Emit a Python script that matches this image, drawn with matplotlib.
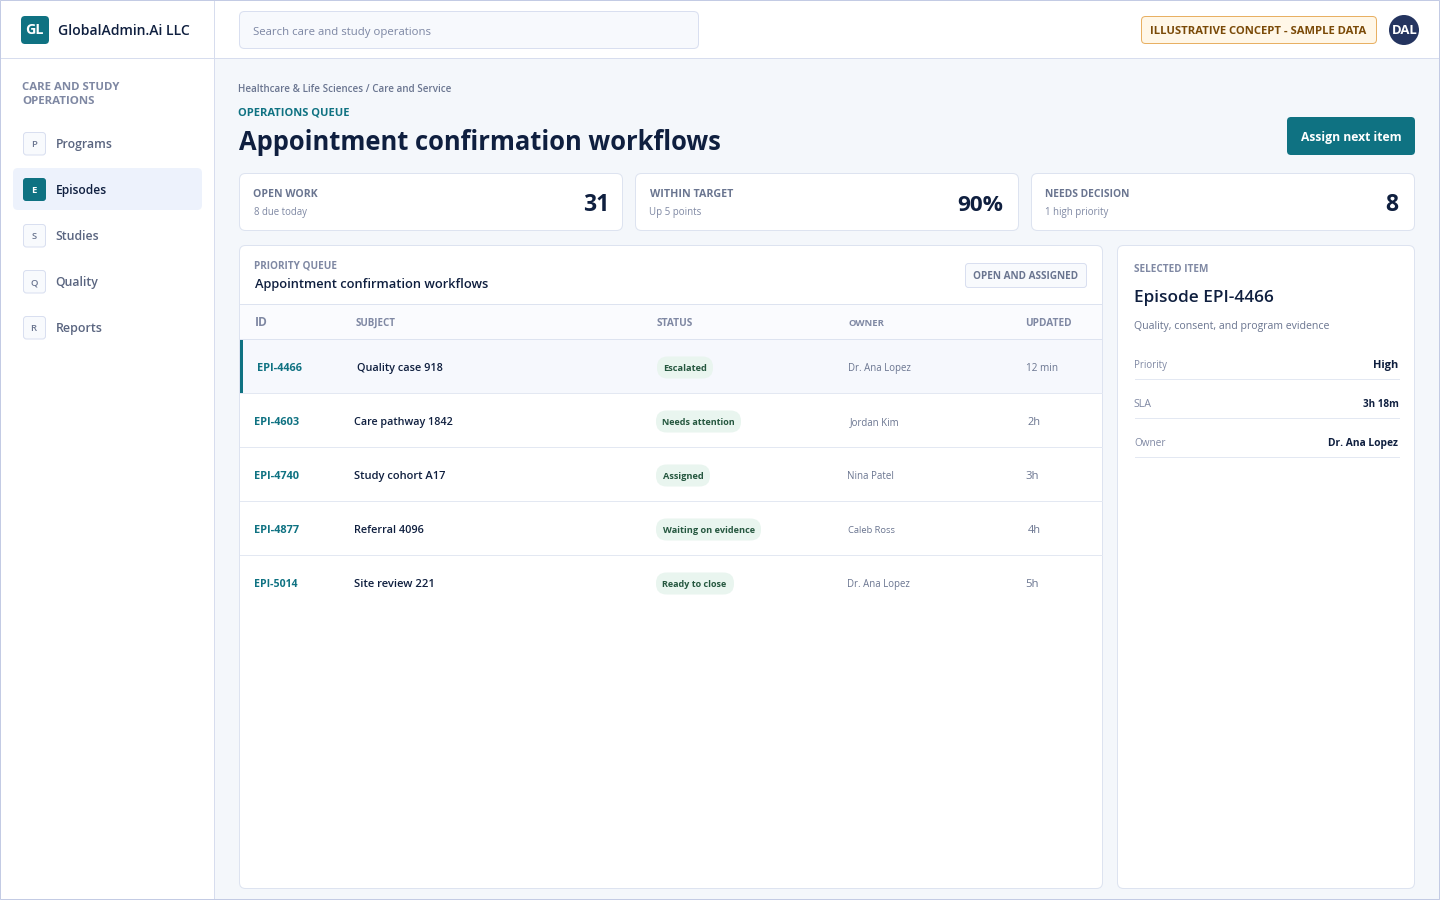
import matplotlib
matplotlib.use("Agg")
import numpy as np
import matplotlib.pyplot as plt
from matplotlib.figure import Figure
from matplotlib.backends.backend_agg import FigureCanvasAgg
from matplotlib.patches import FancyBboxPatch, Rectangle, Circle

plt.rcParams['font.family'] = ['Open Sans', 'DejaVu Sans']

nav_letters = ["P", "E", "S", "Q", "R"]
nav_labels = ["Programs", "Episodes", "Studies", "Quality", "Reports"]
kpi_titles = ["OPEN WORK", "WITHIN TARGET", "NEEDS DECISION"]
kpi_subs = ["8 due today", "Up 5 points", "1 high priority"]
kpi_values = ["31", "90%", "8"]
col_headers = ["ID", "SUBJECT", "STATUS", "OWNER", "UPDATED"]
row_ids = ["EPI-4466", "EPI-4603", "EPI-4740", "EPI-4877", "EPI-5014"]
row_subjects = ["Quality case 918", "Care pathway 1842", "Study cohort A17", "Referral 4096", "Site review 221"]
row_status = ["Escalated", "Needs attention", "Assigned", "Waiting on evidence", "Ready to close"]
row_owner = ["Dr. Ana Lopez", "Jordan Kim", "Nina Patel", "Caleb Ross", "Dr. Ana Lopez"]
row_updated = ["12 min", "2h", "3h", "4h", "5h"]
detail_keys = ["Priority", "SLA", "Owner"]
detail_vals = ["High", "3h 18m", "Dr. Ana Lopez"]

NAVY = "#0f1f3f"; SLATE = "#6a7590"; MUTED = "#7f88a3"; TEAL = "#0f7282"
BORDER = "#dde3f0"; PAGE = "#f4f7fb"; OUTER = "#c3cbe4"
LW = 0.72

fig = plt.figure(figsize=(14.4, 9), dpi=100, facecolor="white")
ax = fig.add_axes([0, 0, 1, 1])
ax.set_xlim(0, 1440); ax.set_ylim(900, 0); ax.axis("off")

def rect(x0, y0, x1, y1, fc, ec="none", lw=0, z=1):
    ax.add_patch(Rectangle((x0, y0), x1 - x0, y1 - y0, fc=fc, ec=ec, lw=lw, zorder=z))

def rrect(x0, y0, x1, y1, r, fc, ec="none", lw=LW, z=2):
    ax.add_patch(FancyBboxPatch((x0 + r, y0 + r), x1 - x0 - 2 * r, y1 - y0 - 2 * r,
                                boxstyle=f"round,pad={r},rounding_size={r}", fc=fc, ec=ec, lw=lw, zorder=z))

def hline(x0, x1, y, c):
    ax.plot([x0, x1], [y - 0.5, y - 0.5], color=c, lw=LW, zorder=4)

def ink(s, pt, w, ha):
    # pixel extent of the drawn text, relative to its anchor
    f = Figure(figsize=(20, 1), dpi=100, facecolor="white")
    c = FigureCanvasAgg(f)
    f.text(0.5, 0.5, s, fontsize=pt, fontweight=w, ha=ha, va="center", color="black")
    c.draw()
    a = np.asarray(c.buffer_rgba())[:, :, 0]
    cols = np.where((a < 170).any(axis=0))[0]
    return cols[0] - 1000, cols[-1] + 1 - 1000

def t(x, y, s, px, c=NAVY, w="normal", ha="left", width=None):
    pt = px * 0.72
    if width:
        for _ in range(2):
            l, r = ink(s, pt, w, ha)
            pt *= width / max(r - l, 1)
    l, r = ink(s, pt, w, ha)
    if ha == "left":
        x = x - l + 0.4
    elif ha == "right":
        x = x - r - 0.5
    else:
        x = x - (l + r) / 2 + 0.5
    base = y + 0.357 * px
    return ax.text(x, base, s, fontsize=pt, color=c, fontweight=w, ha=ha, va="baseline", zorder=5)

# page regions
rect(0, 0, 1440, 900, "white", z=0)
rect(215, 59, 1440, 900, PAGE, z=0)
hline(0, 1440, 58.5, "#d7ddee")
ax.plot([214, 214], [0, 900], color="#d7ddee", lw=LW, zorder=1)
rect(0, 0, 1439, 899, "none", ec=OUTER, lw=LW, z=6)

# brand
rrect(21, 16, 49, 44, 4, TEAL)
t(35, 30, "GL", 12.5, "white", "bold", "center", width=16)
t(59, 30, "GlobalAdmin.Ai LLC", 14, NAVY, "semibold", width=130)

# search
rrect(239.5, 11.5, 698.5, 48.5, 5, "#f7f9fd", ec="#d9dff0")
t(254, 31, "Search care and study operations", 12, "#7c86a3", width=176)

# sample-data badge and avatar
rrect(1141.5, 16.5, 1376.5, 43.5, 4, "#fff7e8", ec="#e8b063")
t(1151, 30.5, "ILLUSTRATIVE CONCEPT - SAMPLE DATA", 10, "#7a4a08", "bold", width=215)
ax.add_patch(Circle((1404, 30), 15, fc="#24345f", ec="none", zorder=2))
t(1404, 30, "DAL", 11, "white", "bold", "center", width=24)

# sidebar
t(23, 86.5, "CARE AND STUDY", 10, MUTED, "bold", width=97)
t(23, 100.5, "OPERATIONS", 10, MUTED, "bold", width=71)
nav_w = [54, 49, 41, 41, 44]
for i, (l, lab) in enumerate(zip(nav_letters, nav_labels)):
    cy = 144 + 46 * i
    if i == 1:
        rrect(13, 168, 202, 210, 5, "#edf2fc")
        rrect(23, 178, 46, 201, 3, TEAL)
        t(34.5, cy, l, 9.5, "white", "bold", "center")
        t(56.5, cy, lab, 12.5, NAVY, "semibold", width=nav_w[i])
    else:
        rrect(23.5, cy - 11.5, 45.5, cy + 11, 3, "#f8fafd", ec="#d9dff0")
        t(34.5, cy, l, 9.5, SLATE, "semibold", "center")
        t(56.5, cy, lab, 12.5, "#5a6580", "semibold", width=nav_w[i])

# heading
t(239, 88.5, "Healthcare & Life Sciences / Care and Service", 10.5, SLATE, "semibold", width=212)
t(239, 112, "OPERATIONS QUEUE", 10, TEAL, "bold", width=110)
t(239, 140.5, "Appointment confirmation workflows", 28, NAVY, "bold", width=482)
rrect(1287, 117, 1415, 155, 4, TEAL)
t(1351, 137, "Assign next item", 12.5, "white", "bold", "center", width=100)

# KPI cards
kpi_x = [(239.5, 622.5), (635.5, 1018.5), (1031.5, 1414.5)]
kt_w = [63, 83, 83]; ks_w = [53, 51, 62]; kv_w = [21, 43, 11]
for i, ((x0, x1), a, b, v) in enumerate(zip(kpi_x, kpi_titles, kpi_subs, kpi_values)):
    rrect(x0, 173.5, x1, 230.5, 6, "white", ec=BORDER)
    t(x0 + 14.5, 193.5, a, 10.5, SLATE, "bold", width=kt_w[i])
    t(x0 + 14.5, 211.5, b, 10, MUTED, width=ks_w[i])
    t(x1 - 15.5, 202.5, v, 23, NAVY, "bold", "right", width=kv_w[i])

# queue panel
rrect(239.5, 245.5, 1102.5, 888.5, 6, "white", ec=BORDER)
t(255, 265.5, "PRIORITY QUEUE", 9.5, MUTED, "bold", width=82)
t(255, 283, "Appointment confirmation workflows", 14, NAVY, "semibold", width=232)
rrect(965.5, 263.5, 1086.5, 287.5, 3, "#f8fafd", ec="#d9dff0")
t(974, 275.5, "OPEN AND ASSIGNED", 9.5, SLATE, "bold", width=104)

# table header
col_x = [255, 355, 656, 848, 1027]
rect(240, 305, 1102, 340, "#fafbfe", z=3)
hline(240, 1102, 304.5, BORDER)
hline(240, 1102, 339.5, BORDER)
hdr_w = [10, 39, 35, 35, 44]
for x, h, hw in zip(col_x, col_headers, hdr_w):
    t(x, 322.5, h, 9.5, MUTED, "bold", width=hw)

# table rows
id_w = [44, 44, 44, 44, 43]
sub_w = [84, 98, 90, 69, 78]
stat_w = [41, 71, 40, 91, 64]
own_w = [61, 49, 44, 47, 62]
upd_w = [30, 11, 11, 11, 11]
for i, (a, b, c, d, e) in enumerate(zip(row_ids, row_subjects, row_status, row_owner, row_updated)):
    cy = 367.5 + 54 * i
    dx = 3 if i == 0 else 0
    if i == 0:
        rect(240, 340, 1102, 393, "#f6f8fd", z=3)
        rect(240, 340, 243, 393, TEAL, z=4)
    if i < 4:
        hline(240, 1102, 393.5 + 54 * i, "#e3e8f2")
    t(col_x[0] + dx, cy, a, 10.5, TEAL, "bold", width=id_w[i])
    t(col_x[1] + dx, cy - 0.7, b, 11.5, NAVY, "semibold", width=sub_w[i])
    pill_x = 657 if i == 0 else 656
    tx_x = pill_x + (8 if i == 0 else 7)
    t(tx_x, cy, c, 9.5, "#25573f", "bold", width=stat_w[i])
    rrect(pill_x, cy - 11, tx_x + stat_w[i] + 7, cy + 11, 10.5, "#e9f5ef", z=4)
    t(col_x[3] + (1 if i == 0 else 0), cy, d, 10, SLATE, width=own_w[i])
    t(col_x[4], cy, e, 10, SLATE, width=upd_w[i])

# detail panel
rrect(1117.5, 245.5, 1414.5, 888.5, 6, "white", ec=BORDER)
t(1134, 268.5, "SELECTED ITEM", 9.5, MUTED, "bold", width=74)
t(1134.5, 296, "Episode EPI-4466", 18, NAVY, "semibold", width=138)
t(1134.5, 325.5, "Quality, consent, and program evidence", 11, SLATE, width=193)
key_w = [32, 17, 30]
val_w = [24, 35, 69]
for i, (k, v) in enumerate(zip(detail_keys, detail_vals)):
    cy = 364.5 + 39 * i
    t(1134.5, cy, k, 10, MUTED, width=key_w[i])
    t(1398.5, cy, v, 10.5, NAVY, "bold", "right", width=val_w[i])
    hline(1134.5, 1398.5, 379.5 + 39 * i, "#e3e8f2")

fig.savefig("out.png", dpi=100)
